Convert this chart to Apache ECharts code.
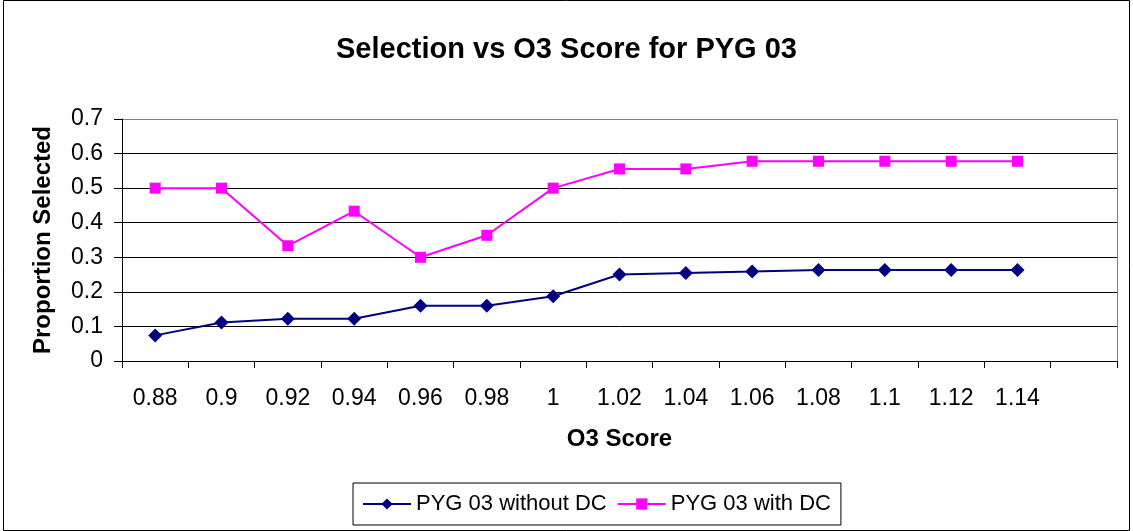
<!DOCTYPE html>
<html>
<head>
<meta charset="utf-8">
<script src="https://cdn.jsdelivr.net/npm/echarts@6/dist/echarts.min.js"></script>
<style>
html,body{margin:0;padding:0;background:#fff;}
#chart{width:1133px;height:531px;}
</style>
</head>
<body>
<div id="chart"></div>
<script>
const categories = ['0.88','0.9','0.92','0.94','0.96','0.98','1','1.02','1.04','1.06','1.08','1.1','1.12','1.14',''];
const withoutDC = [0.0741,0.1111,0.1220,0.1220,0.1600,0.1600,0.1875,0.2500,0.2549,0.2586,0.2632,0.2632,0.2632,0.2632,null];
const withDC = [0.5000,0.5000,0.3333,0.4333,0.3000,0.3636,0.5000,0.5556,0.5556,0.5778,0.5778,0.5778,0.5778,0.5778,null];
const yTicks = {min:0, max:0.7, interval:0.1};

const chart = echarts.init(document.getElementById('chart'));
const font = 'Liberation Sans, Arial, sans-serif';
chart.setOption({
  animation:false,
  backgroundColor:'#fff',
  graphic:[{type:'rect',shape:{x:3.5,y:0.5,width:1126,height:530},style:{fill:'none',stroke:'#000',lineWidth:1},silent:true},
           {type:'rect',shape:{x:122.5,y:119.5,width:995,height:242},style:{fill:'none',stroke:'#808080',lineWidth:1},silent:true,z:-1}],
  title:{text:'Selection vs O3 Score for PYG 03',left:'center',top:30,
    textStyle:{fontFamily:font,fontSize:29,fontWeight:'bold',color:'#000'}},
  legend:{left:353,top:483,itemGap:10,padding:[10,10,10,9],
    borderColor:'#000',borderWidth:1,itemWidth:48,itemHeight:14,
    textStyle:{fontFamily:font,fontSize:22,color:'#000'},
    data:['PYG 03 without DC','PYG 03 with DC']},
  grid:{left:122,right:16,top:119,bottom:170,containLabel:false},
  xAxis:{type:'category',data:categories,boundaryGap:true,
    name:'O3 Score',nameLocation:'middle',nameGap:66,
    nameTextStyle:{fontFamily:font,fontSize:24,fontWeight:'bold',color:'#000'},
    axisLine:{lineStyle:{color:'#000',width:1}},
    axisTick:{show:true,length:7,inside:false,alignWithLabel:false,lineStyle:{color:'#000'}},
    axisLabel:{fontFamily:font,fontSize:23,color:'#000',margin:26,interval:0},
    splitLine:{show:false}},
  yAxis:{type:'value',min:yTicks.min,max:yTicks.max,interval:yTicks.interval,
    name:'Proportion Selected',nameLocation:'middle',nameGap:67,nameRotate:90,
    nameTextStyle:{fontFamily:font,fontSize:24,fontWeight:'bold',color:'#000'},
    axisLine:{show:true,lineStyle:{color:'#000',width:1}},
    axisTick:{show:true,length:8,lineStyle:{color:'#000'}},
    axisLabel:{fontFamily:font,fontSize:23,color:'#000',margin:19,
      formatter:v=>String(Math.round(v*10)/10)},
    splitLine:{show:true,showMaxLine:false,lineStyle:{color:'#000',width:1}}},
  series:[
    {name:'PYG 03 without DC',type:'line',data:withoutDC,symbol:'diamond',symbolSize:14,
     color:'#000080',lineStyle:{color:'#000080',width:2},itemStyle:{color:'#000080'},connectNulls:false},
    {name:'PYG 03 with DC',type:'line',data:withDC,symbol:'rect',symbolSize:11,
     color:'#FF00FF',lineStyle:{color:'#FF00FF',width:2},itemStyle:{color:'#FF00FF'},connectNulls:false}
  ]
});
</script>
</body>
</html>
